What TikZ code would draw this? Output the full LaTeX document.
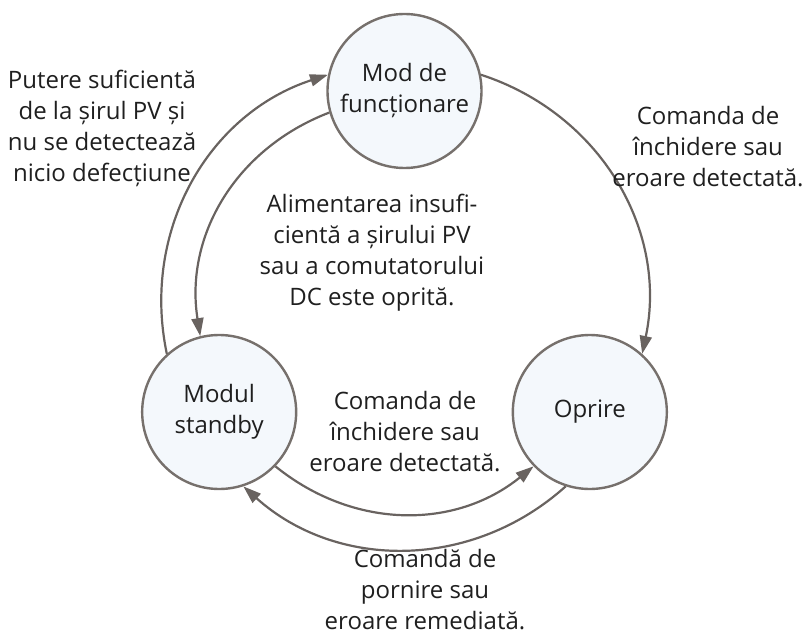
\documentclass[tikz,border=0pt]{standalone}
\usepackage{fontspec}
\setmainfont{Open Sans}
\usetikzlibrary{arrows.meta}
\definecolor{statefill}{RGB}{244,248,252}
\definecolor{ringgray}{RGB}{118,112,108}
\definecolor{arrowgray}{RGB}{105,99,96}
\tikzset{
  statecircle/.style={circle, draw=ringgray, line width=2.4pt, fill=statefill,
    minimum size=154pt, inner sep=0pt, align=center, text=black!88,
    font=\fontsize{24}{31}\selectfont},
  note/.style={align=center, text=black!88, font=\fontsize{24}{31}\selectfont},
  flow/.style={draw=arrowgray, line width=2.2pt, -{Triangle[length=18pt,width=12pt]}}
}

\begin{document}
\begin{tikzpicture}[x=1pt,y=1pt]
		%%%%% START %%%%%
		\useasboundingbox (-404.5,-332) rectangle (405.5,305);
		
		\node[statecircle] (run) at (90:214) {Mod de\\funcționare};
		\node[statecircle] (standby) at (210:214) {Modul\\standby};
		\node[statecircle] (stop) at (330:214) {Oprire};
		
		\draw[flow] (run.12) to[out=-18.1, in=78.1] (stop.48);
		\draw[flow] (standby.132) to[out=101.9, in=198.1] (run.168);
		\draw[flow] (run.196) to[out=201, in=99] (standby.104);
		\draw[flow] (standby.316) to[out=321, in=219] (stop.224);
		\draw[flow] (stop.252) to[out=221.9, in=318.1] (standby.288);
		
		\node[note] (powerok) at (-302.5,177) {Putere suficientă\\de la șirul PV și\\nu se detectează\\nicio defecțiune};
		\node[note] (haltrun) at (303.5,158) {Comanda de\\închidere sau\\eroare detectată.};
		\node[note] (lowpower) at (-32.5,52) {Alimentarea insufi-\\cientă a șirului PV\\sau a comutatorului\\DC este oprită.};
		\node[note] (haltstandby) at (0.5,-127) {Comanda de\\închidere sau\\eroare detectată.};
		\node[note] (startup) at (20.5,-285) {Comandă de\\pornire sau\\eroare remediată.};
		
		%%%%% END %%%%%
	\end{tikzpicture}
\end{document}
